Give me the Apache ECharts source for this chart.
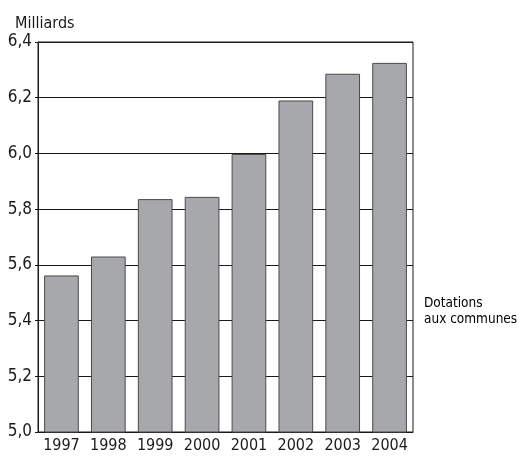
<!DOCTYPE html>
<html>
<head>
<meta charset="utf-8">
<script src="https://cdn.jsdelivr.net/npm/echarts@6/dist/echarts.min.js"></script>
<style>
  html, body { margin: 0; padding: 0; background: #fff; }
  #chart { width: 518px; height: 459px; }
</style>
</head>
<body>
<div id="chart"></div>
<script>
// Dotations aux communes, en milliards, 1997-2004
const years = ['1997', '1998', '1999', '2000', '2001', '2002', '2003', '2004'];
const dotations = [5.562, 5.63, 5.836, 5.844, 5.998, 6.19, 6.286, 6.325];
const yTicks = { min: 5.0, max: 6.4, step: 0.2 };
const unitLabel = 'Milliards';
const seriesLabel = 'Dotations\naux communes';

const FONT = '"Liberation Sans Narrow", "DejaVu Sans Condensed", "Liberation Sans", sans-serif';
const INK = '#1a1a1a';

const chart = echarts.init(document.getElementById('chart'), null, { renderer: 'canvas' });
chart.setOption({
  animation: false,
  backgroundColor: '#ffffff',
  title: [
    {
      text: unitLabel, left: 10, top: 11,
      textStyle: { fontFamily: FONT, fontSize: 16, fontWeight: 'normal', color: INK }
    },
    {
      text: seriesLabel, left: 419, top: 290,
      textStyle: { fontFamily: FONT, fontSize: 13.5, fontWeight: 'normal', color: '#000', lineHeight: 16 }
    }
  ],
  grid: {
    left: 38, right: 105, top: 42, bottom: 27,
    show: true, borderColor: INK, borderWidth: 1, backgroundColor: 'transparent'
  },
  xAxis: {
    type: 'category',
    data: years,
    axisLine: { show: true, lineStyle: { color: INK, width: 1 } },
    axisTick: { show: false },
    axisLabel: { fontFamily: FONT, fontSize: 16, color: INK, margin: 6, interval: 0 }
  },
  yAxis: {
    type: 'value',
    min: yTicks.min, max: yTicks.max, interval: yTicks.step,
    axisLine: { show: true, lineStyle: { color: INK, width: 1 } },
    axisTick: { show: true, length: 3, lineStyle: { color: INK } },
    splitLine: { show: true, lineStyle: { color: INK, width: 1 } },
    axisLabel: {
      fontFamily: FONT, fontSize: 17, color: INK, margin: 6,
      formatter: v => v.toFixed(1).replace('.', ',')
    }
  },
  series: [{
    type: 'bar',
    data: dotations,
    barWidth: '74%',
    itemStyle: { color: '#a7a8ab', borderColor: '#4a4a4a', borderWidth: 1 }
  }]
});
</script>
</body>
</html>
